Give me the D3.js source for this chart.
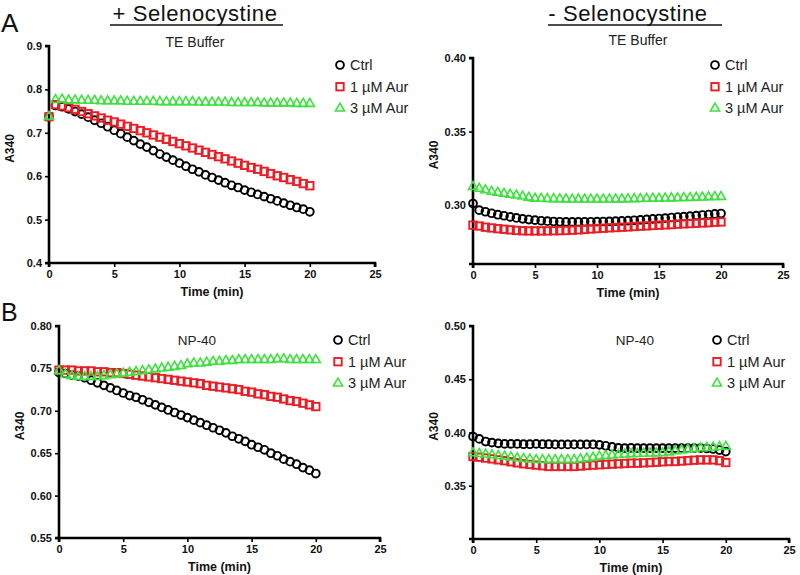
<!DOCTYPE html>
<html><head><meta charset="utf-8">
<script src="https://cdn.jsdelivr.net/npm/d3@7"></script>
<style>
body{margin:0;background:#fff;}
svg{display:block;font-family:"Liberation Sans",Arial,sans-serif;}
</style></head>
<body>
<script>
// ---------- DATA ----------
const timeMin = [0,0.5,1,1.5,2,2.5,3,3.5,4,4.5,5,5.5,6,6.5,7,7.5,8,8.5,9,9.5,10,10.5,11,11.5,12,12.5,13,13.5,14,14.5,15,15.5,16,16.5,17,17.5,18,18.5,19,19.5,20];
const seriesNames = ["Ctrl","1 µM Aur","3 µM Aur"];
const xTicks = [0,5,10,15,20,25];

// Panel A, + Selenocystine, TE Buffer
const plusTE_ctrl = [0.737,0.763,0.760,0.755,0.749,0.743,0.736,0.729,0.722,0.714,
  0.706,0.698,0.690,0.682,0.674,0.667,0.659,0.651,0.644,0.637,
  0.630,0.623,0.616,0.610,0.603,0.597,0.591,0.585,0.579,0.574,
  0.568,0.563,0.558,0.553,0.548,0.543,0.538,0.533,0.528,0.524,0.518];
const plusTE_aur1 = [0.737,0.765,0.762,0.758,0.754,0.749,0.744,0.739,0.734,0.729,
  0.725,0.720,0.715,0.710,0.705,0.700,0.695,0.690,0.685,0.680,
  0.675,0.670,0.665,0.660,0.655,0.650,0.645,0.640,0.635,0.630,
  0.625,0.620,0.616,0.611,0.606,0.601,0.597,0.592,0.588,0.583,0.578];
const plusTE_aur3 = [0.737,0.776,0.777,0.775,0.775,0.774,0.774,0.774,0.773,0.773,
  0.773,0.773,0.772,0.772,0.772,0.772,0.772,0.771,0.771,0.771,
  0.771,0.771,0.771,0.770,0.770,0.770,0.770,0.770,0.769,0.769,
  0.769,0.769,0.769,0.768,0.768,0.768,0.768,0.768,0.767,0.767,0.767];
const plusTE_yTicks = [0.4,0.5,0.6,0.7,0.8,0.9];

// Panel A, - Selenocystine, TE Buffer
const minusTE_ctrl = [0.3011,0.2966,0.2955,0.2945,0.2935,0.2928,0.2920,0.2913,0.2907,0.2902,
  0.2898,0.2894,0.2891,0.2889,0.2887,0.2886,0.2886,0.2886,0.2887,0.2887,
  0.2888,0.2889,0.2890,0.2891,0.2893,0.2895,0.2897,0.2900,0.2903,0.2906,
  0.2909,0.2912,0.2916,0.2919,0.2922,0.2925,0.2929,0.2933,0.2936,0.2940,0.2943];
const minusTE_aur1 = [0.2864,0.2858,0.2850,0.2845,0.2840,0.2836,0.2832,0.2828,0.2826,0.2825,
  0.2825,0.2825,0.2825,0.2826,0.2827,0.2828,0.2830,0.2832,0.2835,0.2838,
  0.2841,0.2843,0.2846,0.2848,0.2850,0.2852,0.2855,0.2857,0.2859,0.2862,
  0.2864,0.2866,0.2868,0.2871,0.2873,0.2875,0.2877,0.2879,0.2881,0.2884,0.2886];
const minusTE_aur3 = [0.3125,0.3112,0.3102,0.3092,0.3085,0.3078,0.3072,0.3066,0.3060,0.3052,
  0.3045,0.3044,0.3043,0.3042,0.3041,0.3040,0.3039,0.3039,0.3039,0.3039,
  0.3039,0.3039,0.3039,0.3040,0.3040,0.3041,0.3042,0.3043,0.3044,0.3045,
  0.3045,0.3046,0.3047,0.3048,0.3049,0.3050,0.3052,0.3053,0.3055,0.3056,0.3057];
const minusTE_yTicks = [0.30,0.35,0.40];

// Panel B, + Selenocystine, NP-40
const plusNP_ctrl = [0.745,0.744,0.742,0.741,0.739,0.736,0.733,0.730,0.727,0.724,
  0.721,0.718,0.716,0.713,0.710,0.707,0.704,0.701,0.698,0.695,
  0.692,0.689,0.686,0.683,0.680,0.677,0.674,0.670,0.667,0.664,
  0.660,0.657,0.654,0.650,0.647,0.643,0.640,0.637,0.633,0.630,0.626];
const plusNP_aur1 = [0.748,0.748,0.748,0.747,0.747,0.747,0.746,0.746,0.745,0.745,
  0.744,0.743,0.742,0.741,0.740,0.739,0.738,0.737,0.736,0.735,
  0.734,0.733,0.732,0.730,0.729,0.728,0.727,0.726,0.725,0.723,
  0.722,0.720,0.719,0.717,0.716,0.714,0.712,0.711,0.709,0.707,0.705];
const plusNP_aur3 = [0.747,0.743,0.741,0.740,0.740,0.740,0.740,0.741,0.742,0.743,
  0.744,0.745,0.746,0.747,0.748,0.749,0.750,0.751,0.752,0.753,
  0.755,0.756,0.756,0.757,0.758,0.758,0.759,0.759,0.760,0.760,
  0.760,0.760,0.760,0.760,0.761,0.761,0.760,0.760,0.760,0.760,0.760];
const plusNP_yTicks = [0.55,0.60,0.65,0.70,0.75,0.80];

// Panel B, - Selenocystine, NP-40
const minusNP_ctrl = [0.3962,0.3940,0.3915,0.3905,0.3898,0.3893,0.3893,0.3893,0.3890,0.3890,
  0.3893,0.3890,0.3890,0.3888,0.3888,0.3888,0.3888,0.3888,0.3888,0.3888,
  0.3884,0.3875,0.3865,0.3856,0.3853,0.3856,0.3853,0.3853,0.3853,0.3853,
  0.3853,0.3853,0.3853,0.3853,0.3853,0.3853,0.3853,0.3850,0.3845,0.3835,0.3821];
const minusNP_aur1 = [0.3775,0.3768,0.3760,0.3752,0.3743,0.3735,0.3725,0.3715,0.3706,0.3700,
  0.3694,0.3688,0.3681,0.3681,0.3681,0.3681,0.3681,0.3685,0.3690,0.3694,
  0.3697,0.3700,0.3703,0.3706,0.3709,0.3712,0.3712,0.3715,0.3718,0.3721,
  0.3725,0.3728,0.3728,0.3732,0.3736,0.3740,0.3743,0.3743,0.3743,0.3735,0.3718];
const minusNP_aur3 = [0.3806,0.3800,0.3795,0.3788,0.3781,0.3775,0.3768,0.3760,0.3752,0.3748,
  0.3743,0.3743,0.3743,0.3743,0.3743,0.3743,0.3743,0.3750,0.3758,0.3765,
  0.3775,0.3780,0.3785,0.3790,0.3795,0.3798,0.3800,0.3802,0.3804,0.3805,
  0.3806,0.3815,0.3825,0.3832,0.3840,0.3845,0.3853,0.3855,0.3860,0.3865,0.3868];
const minusNP_yTicks = [0.35,0.40,0.45,0.50];

// ---------- LAYOUT ----------
const W = 800, H = 575;
const colors = ["#000000","#ea1c24","#3ee23e"];
const svg = d3.select("body").append("svg").attr("width",W).attr("height",H);

const panels = [
  {series:[plusTE_ctrl,plusTE_aur1,plusTE_aur3], yDomain:[0.4,0.9], yTicks:plusTE_yTicks, fmt:".1f",
   x0:49, x1:375, y0:263, y1:46, sub:"TE Buffer", subX:195, subY:47, subSize:14, legX:340, legY:65},
  {series:[minusTE_ctrl,minusTE_aur1,minusTE_aur3], yDomain:[0.26,0.40], yTicks:minusTE_yTicks, fmt:".2f",
   x0:473, x1:783, y0:264, y1:58, sub:"TE Buffer", subX:638, subY:45, subSize:14, legX:715, legY:65},
  {series:[plusNP_ctrl,plusNP_aur1,plusNP_aur3], yDomain:[0.55,0.80], yTicks:plusNP_yTicks, fmt:".2f",
   x0:59, x1:380, y0:538, y1:326, sub:"NP-40", subX:197, subY:345, subSize:13.5, legX:338, legY:340},
  {series:[minusNP_ctrl,minusNP_aur1,minusNP_aur3], yDomain:[0.30,0.50], yTicks:minusNP_yTicks, fmt:".2f",
   x0:473, x1:789, y0:539, y1:326, sub:"NP-40", subX:635, subY:345, subSize:13.5, legX:717, legY:340}
];

function drawMarker(g, k, cx, cy){
  const c = colors[k];
  if(k===0){
    g.append("circle").attr("cx",cx).attr("cy",cy).attr("r",3.9)
      .attr("fill","none").attr("stroke",c).attr("stroke-width",1.9);
  } else if(k===1){
    g.append("rect").attr("x",cx-3.7).attr("y",cy-3.7).attr("width",7.4).attr("height",7.4)
      .attr("fill","none").attr("stroke",c).attr("stroke-width",1.9);
  } else {
    g.append("path").attr("transform",`translate(${cx},${cy})`)
      .attr("d",d3.symbol().type(d3.symbolTriangle).size(36)())
      .attr("fill","none").attr("stroke",c).attr("stroke-width",1.6);
  }
}

panels.forEach(p=>{
  const x = d3.scaleLinear().domain([0,25]).range([p.x0,p.x1]);
  const y = d3.scaleLinear().domain(p.yDomain).range([p.y0,p.y1]);
  const g = svg.append("g");

  // axes
  const xa = g.append("g").attr("transform",`translate(0,${p.y0})`)
    .call(d3.axisBottom(x).tickValues(xTicks).tickSize(4).tickPadding(3).tickFormat(d3.format("d")));
  const ya = g.append("g").attr("transform",`translate(${p.x0},0)`)
    .call(d3.axisLeft(y).tickValues(p.yTicks).tickSize(4).tickPadding(3).tickFormat(d3.format(p.fmt)));
  [xa,ya].forEach(a=>{
    a.select(".domain").attr("stroke","#000").attr("stroke-width",2.6);
    a.selectAll(".tick line").attr("stroke","#000").attr("stroke-width",1.6);
    a.selectAll(".tick text").attr("fill","#111").attr("font-size",11).attr("font-weight","bold")
      .attr("font-family","Liberation Sans, Arial, sans-serif");
  });
  ya.select(".domain").attr("d",`M-4,${p.y0}H0V${p.y1}H-4`);
  xa.select(".domain").attr("d",`M${p.x0},4V0H${p.x1}V4`);

  // axis titles
  g.append("text").attr("x",(p.x0+x(25))/2).attr("y",p.y0+33).attr("text-anchor","middle")
    .attr("font-size",12.5).attr("font-weight","bold").attr("fill","#111").text("Time (min)");
  const ymid = (p.y0+p.y1)/2 - 6;
  g.append("text").attr("transform",`translate(${p.x0-35},${ymid}) rotate(-90)`)
    .attr("text-anchor","middle").attr("font-size",12).attr("font-weight","bold").attr("fill","#111").text("A340");

  // subtitle
  g.append("text").attr("x",p.subX).attr("y",p.subY).attr("text-anchor","middle")
    .attr("font-size",p.subSize).attr("fill","#222").text(p.sub);

  // data
  p.series.forEach((vals,k)=>{
    const sg = g.append("g");
    vals.forEach((v,i)=> drawMarker(sg,k,x(timeMin[i]),y(v)));
  });

  // legend
  seriesNames.forEach((n,k)=>{
    const ly = p.legY + k*21.7;
    drawMarker(g,k,p.legX,ly);
    g.append("text").attr("x",p.legX+10).attr("y",ly+5).attr("font-size",14.5).attr("fill","#222").text(n);
  });
});

// headers
svg.append("text").attr("x",195).attr("y",20.5).attr("text-anchor","middle").attr("font-size",22)
  .attr("letter-spacing",0.6).attr("fill","#111").text("+ Selenocystine");
svg.append("line").attr("x1",110).attr("x2",283).attr("y1",25).attr("y2",25).attr("stroke","#111").attr("stroke-width",1.4);
svg.append("text").attr("x",628).attr("y",20.5).attr("text-anchor","middle").attr("font-size",22)
  .attr("letter-spacing",0.6).attr("fill","#111").text("- Selenocystine");
svg.append("line").attr("x1",548).attr("x2",722).attr("y1",25).attr("y2",25).attr("stroke","#111").attr("stroke-width",1.4);
svg.append("text").attr("x",1).attr("y",32).attr("font-size",26).attr("fill","#111").text("A");
svg.append("text").attr("x",1).attr("y",321).attr("font-size",25).attr("fill","#111").text("B");
</script>
</body></html>
